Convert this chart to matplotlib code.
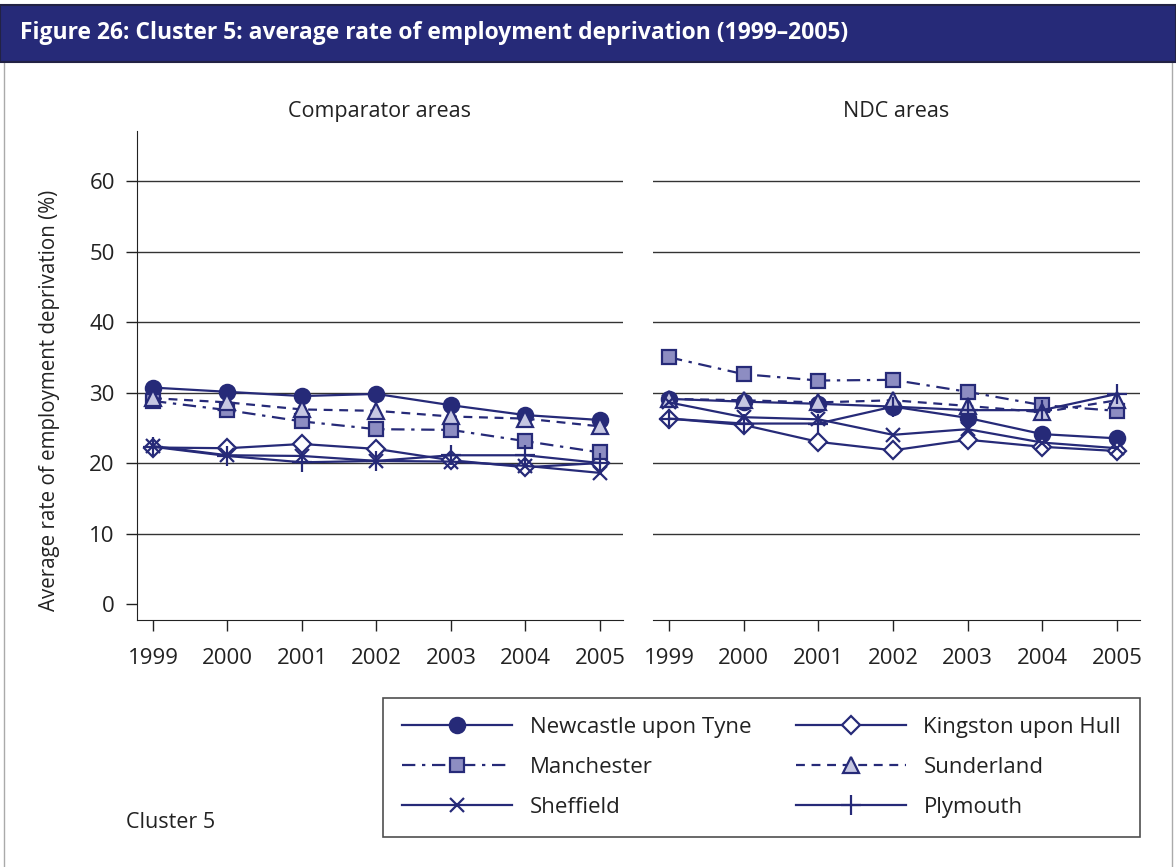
import matplotlib
matplotlib.use('Agg')
import matplotlib.pyplot as plt
from matplotlib.patches import Rectangle

plt.rcParams['font.family'] = ['Open Sans', 'DejaVu Sans']

NAVY = '#262a78'
TXT = '#222222'

years = [1999, 2000, 2001, 2002, 2003, 2004, 2005]
panel_titles = ['Comparator areas', 'NDC areas']
series_names = ['Newcastle upon Tyne', 'Kingston upon Hull', 'Manchester',
                'Sunderland', 'Sheffield', 'Plymouth']

# comparator areas
newcastle_c = [30.7, 30.1, 29.5, 29.8, 28.2, 26.8, 26.1]
kingston_c = [22.2, 22.1, 22.7, 22.0, 20.4, 19.4, 20.0]
manchester_c = [28.8, 27.5, 25.9, 24.8, 24.7, 23.1, 21.5]
sunderland_c = [29.2, 28.6, 27.6, 27.4, 26.6, 26.3, 25.2]
sheffield_c = [22.4, 21.1, 21.0, 20.3, 20.2, 19.6, 18.6]
plymouth_c = [22.3, 21.0, 20.1, 20.3, 21.1, 21.1, 20.0]

# NDC areas
newcastle_n = [29.1, 28.7, 28.4, 28.0, 26.4, 24.1, 23.5]
kingston_n = [26.3, 25.4, 23.0, 21.8, 23.3, 22.3, 21.7]
manchester_n = [35.0, 32.6, 31.7, 31.8, 30.1, 28.2, 27.4]
sunderland_n = [29.1, 28.9, 28.6, 28.9, 28.1, 27.2, 28.9]
sheffield_n = [28.6, 26.5, 26.2, 24.0, 24.8, 22.9, 22.1]
plymouth_n = [26.3, 25.6, 25.6, 28.0, 27.5, 27.5, 29.8]

y_ticks = [0, 10, 20, 30, 40, 50, 60]

STYLES = {
    'Newcastle upon Tyne': dict(marker='o', ms=11, mfc=NAVY, ls='-'),
    'Kingston upon Hull': dict(marker='D', ms=9.5, mfc='white', ls='-'),
    'Manchester': dict(marker='s', ms=10, mfc='#8d8dc2', ls=(0, (6, 3, 1.5, 3))),
    'Sunderland': dict(marker='^', ms=11, mfc='#c6c7e2', ls=(0, (4, 3))),
    'Sheffield': dict(marker='x', ms=10, mfc=NAVY, ls='-'),
    'Plymouth': dict(marker='+', ms=14, mfc=NAVY, ls='-'),
}
# legend reads across rows: two columns
legend_order = ['Newcastle upon Tyne', 'Manchester', 'Sheffield',
                'Kingston upon Hull', 'Sunderland', 'Plymouth']

fig = plt.figure(figsize=(11.76, 8.67), dpi=100)

# outer frame and title banner
fig.patches.append(Rectangle((0.003, -0.01), 0.994, 1.0, transform=fig.transFigure,
                             fill=False, ec='#aaaaaa', lw=1))
fig.patches.append(Rectangle((0.0, 1 - 62 / 867), 1.0, 57 / 867, transform=fig.transFigure,
                             fc=NAVY, ec='#222244', lw=1.5))
fig.text(20 / 1176, 1 - 33 / 867,
         'Figure 26: Cluster 5: average rate of employment deprivation (1999\u20132005)',
         color='white', fontsize=16.5, fontweight='bold', va='center', ha='left')

ax1 = fig.add_axes([137 / 1176, 1 - 620 / 867, 486 / 1176, 489 / 867])
ax2 = fig.add_axes([653 / 1176, 1 - 620 / 867, 487 / 1176, 489 / 867])

data = [
    [newcastle_c, kingston_c, manchester_c, sunderland_c, sheffield_c, plymouth_c],
    [newcastle_n, kingston_n, manchester_n, sunderland_n, sheffield_n, plymouth_n],
]

handles = {}
for ax, title, panel in zip([ax1, ax2], panel_titles, data):
    for v in y_ticks[1:]:
        ax.axhline(v, color='#333333', lw=1, zorder=1)
    for name, vals in zip(series_names, panel):
        st = STYLES[name]
        h, = ax.plot(years, vals, color=NAVY, lw=1.6, ls=st['ls'],
                     marker=st['marker'], ms=st['ms'], mfc=st['mfc'],
                     mec=NAVY, mew=1.6, zorder=3, label=name)
        handles[name] = h
    ax.set_xlim(1998.785, 2005.31)
    ax.set_ylim(-2.27, 67.1)
    ax.set_xticks(years)
    ax.set_yticks(y_ticks)
    ax.set_title(title, fontsize=15.5, color=TXT, pad=10)
    for s in ['top', 'right']:
        ax.spines[s].set_visible(False)
    ax.spines['bottom'].set_color(TXT)
    ax.spines['left'].set_color(TXT)
    ax.tick_params(axis='both', direction='out', length=8, width=1, color=TXT,
                   labelsize=16, labelcolor=TXT)
    ax.tick_params(axis='x', pad=12)
    ax.tick_params(axis='y', pad=8)

ax2.spines['left'].set_visible(False)
ax2.tick_params(axis='y', left=False, labelleft=False)

fig.text(50 / 1176, 1 - 400 / 867, 'Average rate of employment deprivation (%)',
         rotation=90, fontsize=14.8, color=TXT, va='center', ha='center')

fig.text(126 / 1176, 1 - 822 / 867, 'Cluster 5', fontsize=15.5, color=TXT,
         va='center', ha='left')

leg = fig.legend(handles=[handles[n] for n in legend_order], labels=legend_order, ncol=2,
                 loc='upper left', bbox_to_anchor=(383 / 1176, 1 - 698 / 867),
                 borderaxespad=0, fontsize=16, frameon=True, fancybox=False,
                 edgecolor=TXT, handlelength=4.95, handletextpad=0.8,
                 labelspacing=0.86, borderpad=0.85, columnspacing=2.0)
leg.get_frame().set_linewidth(1.2)
for t in leg.get_texts():
    t.set_color(TXT)

fig.savefig('out.png', dpi=100)
